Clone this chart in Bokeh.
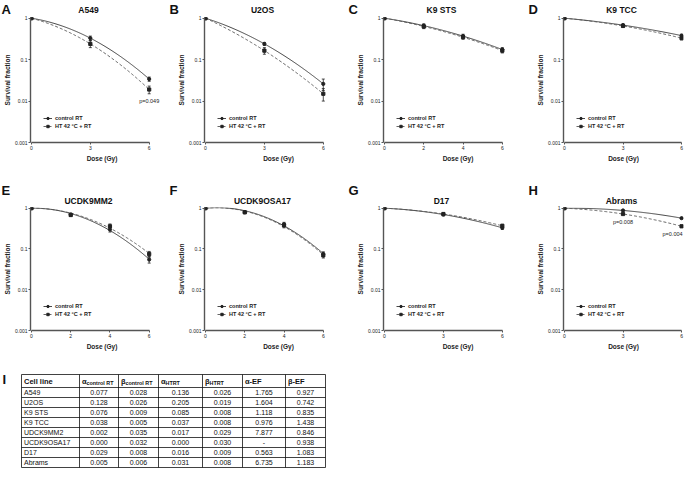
import numpy as np
from bokeh.plotting import figure
from bokeh.models import (Range1d, FixedTicker, CustomJSTickFormatter, Label, Legend,
                          LegendItem, Whisker, ColumnDataSource, TeeHead)
from bokeh.layouts import column, row
from bokeh.core.properties import value
from bokeh.embed import file_html
from bokeh.resources import INLINE

# ---------------- data ----------------
a549_dose = [0, 3, 6]
a549_ctrl = [1.0, 0.33, 0.034]
a549_ctrl_err = [0.02, 0.04, 0.004]
a549_ht = [1.0, 0.24, 0.019]
a549_ht_err = [0.02, 0.045, 0.004]
a549_p = [(2, "p=0.049")]

u2os_dose = [0, 3, 6]
u2os_ctrl = [1.0, 0.24, 0.026]
u2os_ctrl_err = [0.06, 0.02, 0.008]
u2os_ht = [1.0, 0.165, 0.015]
u2os_ht_err = [0.08, 0.03, 0.005]
u2os_p = []

k9sts_dose = [0, 2, 4, 6]
k9sts_ctrl = [1.0, 0.66, 0.37, 0.175]
k9sts_ctrl_err = [0.02, 0.07, 0.04, 0.02]
k9sts_ht = [1.0, 0.63, 0.35, 0.165]
k9sts_ht_err = [0.02, 0.07, 0.04, 0.02]
k9sts_p = []

k9tcc_dose = [0, 3, 6]
k9tcc_ctrl = [1.0, 0.68, 0.38]
k9tcc_ctrl_err = [0.03, 0.05, 0.03]
k9tcc_ht = [1.0, 0.65, 0.33]
k9tcc_ht_err = [0.03, 0.05, 0.03]
k9tcc_p = []

mm2_dose = [0, 2, 4, 6]
mm2_ctrl = [1.0, 0.70, 0.30, 0.055]
mm2_ctrl_err = [0.02, 0.05, 0.04, 0.01]
mm2_ht = [1.0, 0.68, 0.36, 0.075]
mm2_ht_err = [0.02, 0.05, 0.05, 0.012]
mm2_p = []

osa17_dose = [0, 2, 4, 6]
osa17_ctrl = [1.0, 0.80, 0.40, 0.075]
osa17_ctrl_err = [0.02, 0.05, 0.05, 0.01]
osa17_ht = [1.0, 0.79, 0.38, 0.07]
osa17_ht_err = [0.02, 0.05, 0.05, 0.01]
osa17_p = []

d17_dose = [0, 3, 6]
d17_ctrl = [1.0, 0.70, 0.33]
d17_ctrl_err = [0.02, 0.05, 0.03]
d17_ht = [1.0, 0.72, 0.37]
d17_ht_err = [0.02, 0.04, 0.03]
d17_p = []

abrams_dose = [0, 3, 6]
abrams_ctrl = [1.0, 0.88, 0.57]
abrams_ctrl_err = [0.01, 0.02, 0.02]
abrams_ht = [1.0, 0.72, 0.36]
abrams_ht_err = [0.01, 0.02, 0.02]
abrams_p = [(1, "p=0.008"), (2, "p=0.004")]

panel_letters = ["A", "B", "C", "D", "E", "F", "G", "H"]
panel_names = ["A549", "U2OS", "K9 STS", "K9 TCC", "UCDK9MM2", "UCDK9OSA17", "D17", "Abrams"]
y_ticks = [0.001, 0.01, 0.1, 1]
legend_labels = ["control RT", "HT 42 \u00b0C + RT"]

table_cells = ["A549", "U2OS", "K9 STS", "K9 TCC", "UDCK9MM2", "UCDK9OSA17", "D17", "Abrams"]
alpha_ctrl = [0.077, 0.128, 0.076, 0.038, 0.002, 0.000, 0.029, 0.005]
beta_ctrl = [0.028, 0.026, 0.009, 0.005, 0.035, 0.032, 0.008, 0.006]
alpha_htrt = [0.136, 0.205, 0.085, 0.037, 0.017, 0.000, 0.016, 0.031]
beta_htrt = [0.026, 0.019, 0.008, 0.008, 0.029, 0.030, 0.009, 0.008]
alpha_ef = [1.765, 1.604, 1.118, 0.976, 7.877, None, 0.563, 6.735]
beta_ef = [0.927, 0.742, 0.835, 1.438, 0.846, 0.938, 1.083, 1.183]

# ---------------- styling / layout constants ----------------
FONT = "Liberation Sans"
INK = "#222222"
TOTAL_W = 684
COL_WIDTHS = [174, 179, 180, 151]
LEFT_B = 26
AXIS_W = 122            # pixel length of the 0..6 Gy axis
X0 = -0.05
PX_PER_GY = AXIS_W / (6 - X0)
ROW_SPECS = [dict(strip=15, height=162, bottom=35, letter_y=1, title_y=9),
             dict(strip=28, height=147, bottom=21, letter_y=5, title_y=23)]


def lq_curve(d, s):
    d = np.asarray(d, float)
    s = np.asarray(s, float)
    m = d > 0
    A = np.column_stack([d[m], d[m] ** 2])
    coef, *_ = np.linalg.lstsq(A, -np.log(s[m]), rcond=None)
    xs = np.linspace(0, max(d), 121)
    return xs, np.exp(-(coef[0] * xs + coef[1] * xs ** 2))


def make_panel(idx, dose, ctrl, ctrl_err, ht, ht_err, pvals):
    col = idx % 4
    spec = ROW_SPECS[idx // 4]
    w = COL_WIDTHS[col]
    frame_w = w - LEFT_B - 1
    x_end = X0 + frame_w / PX_PER_GY
    p = figure(width=w, height=spec["height"], y_axis_type="log",
               x_range=Range1d(X0, x_end), y_range=Range1d(0.001, 1.04),
               output_backend="svg", toolbar_location=None,
               min_border_left=LEFT_B, min_border_right=1,
               min_border_top=2, min_border_bottom=spec["bottom"])
    p.outline_line_color = None
    p.grid.visible = False

    for ax in (p.xaxis[0], p.yaxis[0]):
        ax.axis_line_color = "#555555"
        ax.axis_line_width = 1.4
        ax.major_tick_line_color = "#555555"
        ax.major_tick_line_width = 1
        ax.major_tick_in = 0
        ax.major_tick_out = 2
        ax.minor_tick_line_color = None
        ax.major_label_text_font = FONT
        ax.major_label_text_font_size = "5px"
        ax.major_label_text_color = INK
        ax.major_label_standoff = 1
        ax.axis_label_text_font = FONT
        ax.axis_label_text_font_size = "6.5px"
        ax.axis_label_text_font_style = "bold"
        ax.axis_label_text_color = INK
        ax.axis_label_standoff = 2
    p.xaxis.ticker = FixedTicker(ticks=dose, minor_ticks=[])
    p.xaxis.bounds = (0, 6)
    p.xaxis.axis_label = "Dose (Gy)"
    p.yaxis.ticker = FixedTicker(ticks=y_ticks, minor_ticks=[])
    p.yaxis.bounds = (0.001, 1)
    p.yaxis.formatter = CustomJSTickFormatter(code="return String(tick);")
    p.yaxis.axis_label = "Survival fraction"
    p.yaxis.axis_label_standoff = 1

    cx, cy = lq_curve(dose, ctrl)
    hx, hy = lq_curve(dose, ht)
    r_cl = p.line(cx, cy, line_color="#333333", line_width=0.9)
    r_hl = p.line(hx, hy, line_color="#555555", line_width=0.9, line_dash="3 2")

    for vals, errs in ((ctrl, ctrl_err), (ht, ht_err)):
        src = ColumnDataSource(dict(x=dose,
                                    upper=[v + e for v, e in zip(vals, errs)],
                                    lower=[v - e for v, e in zip(vals, errs)]))
        p.add_layout(Whisker(base="x", upper="upper", lower="lower", source=src,
                             line_color=INK, line_width=0.8,
                             upper_head=TeeHead(size=3, line_color=INK, line_width=0.8),
                             lower_head=TeeHead(size=3, line_color=INK, line_width=0.8)))

    r_cs = p.scatter(dose, ctrl, marker="circle", size=3.2, color=INK)
    r_hs = p.scatter(dose, ht, marker="square", size=3.2, color=INK)

    legend = Legend(items=[LegendItem(label=legend_labels[0], renderers=[r_cl, r_cs]),
                           LegendItem(label=legend_labels[1], renderers=[r_hl, r_hs])],
                    location=(13, 13), orientation="vertical",
                    label_text_font=FONT, label_text_font_size="5.5px",
                    label_text_font_style="bold", label_text_color=INK,
                    glyph_width=9, glyph_height=6, label_height=6, label_standoff=3,
                    spacing=2, padding=0, margin=0,
                    border_line_alpha=0, background_fill_alpha=0)
    p.add_layout(legend)

    for k, txt in pvals:
        right_edge = dose[k] >= 6 and col == 3
        yo = -11 if col == 0 else -8
        p.add_layout(Label(x=dose[k], y=ht[k], x_offset=1 if right_edge else 0, y_offset=yo,
                           text=txt, text_font=FONT, text_font_size="5.5px",
                           text_color=INK, text_baseline="middle",
                           text_align="right" if right_edge else "center"))
    return p


def header_strip(r):
    spec = ROW_SPECS[r]
    h = spec["strip"]
    s = figure(width=TOTAL_W, height=h, x_range=Range1d(0, TOTAL_W), y_range=Range1d(h, 0),
               output_backend="svg", toolbar_location=None, min_border=0,
               x_axis_type=None, y_axis_type=None)
    s.outline_line_color = None
    s.grid.visible = False
    lefts = np.cumsum([0] + COL_WIDTHS[:-1])
    frame_lefts = [l + LEFT_B for l in lefts]
    s.text(x=[max(1, f - 31) for f in frame_lefts], y=[spec["letter_y"]] * 4,
           text=panel_letters[4 * r:4 * r + 4],
           text_font=value(FONT), text_font_size=value("13px"), text_font_style="bold",
           text_color="#111111", text_align="left", text_baseline="top")
    s.text(x=[f + AXIS_W / 2 + 1 for f in frame_lefts], y=[spec["title_y"]] * 4,
           text=panel_names[4 * r:4 * r + 4],
           text_font=value(FONT), text_font_size=value("8.5px"), text_font_style="bold",
           text_color="#111111", text_align="center", text_baseline="middle")
    return s


panel_data = [
    (a549_dose, a549_ctrl, a549_ctrl_err, a549_ht, a549_ht_err, a549_p),
    (u2os_dose, u2os_ctrl, u2os_ctrl_err, u2os_ht, u2os_ht_err, u2os_p),
    (k9sts_dose, k9sts_ctrl, k9sts_ctrl_err, k9sts_ht, k9sts_ht_err, k9sts_p),
    (k9tcc_dose, k9tcc_ctrl, k9tcc_ctrl_err, k9tcc_ht, k9tcc_ht_err, k9tcc_p),
    (mm2_dose, mm2_ctrl, mm2_ctrl_err, mm2_ht, mm2_ht_err, mm2_p),
    (osa17_dose, osa17_ctrl, osa17_ctrl_err, osa17_ht, osa17_ht_err, osa17_p),
    (d17_dose, d17_ctrl, d17_ctrl_err, d17_ht, d17_ht_err, d17_p),
    (abrams_dose, abrams_ctrl, abrams_ctrl_err, abrams_ht, abrams_ht_err, abrams_p),
]
panels = [make_panel(i, *d) for i, d in enumerate(panel_data)]

# ---------------- table (panel I) ----------------
TW, TH = TOTAL_W, 117
t = figure(width=TW, height=TH, x_range=Range1d(0, TW), y_range=Range1d(TH, 0),
           output_backend="svg", toolbar_location=None, min_border=0,
           x_axis_type=None, y_axis_type=None)
t.outline_line_color = None
t.grid.visible = False

tcol_w = [58, 39, 40, 44, 40, 43, 40]
t_left, t_top, head_h, row_h = 21, 22, 13, 10
edges = [t_left]
for cw in tcol_w:
    edges.append(edges[-1] + cw)
n = len(table_cells)
hlines = [t_top, t_top + head_h] + [t_top + head_h + row_h * (i + 1) for i in range(n)]
t.segment(x0=[edges[0]] * len(hlines), x1=[edges[-1]] * len(hlines), y0=hlines, y1=hlines,
          line_color="#111111", line_width=0.8)
t.segment(x0=edges, x1=edges, y0=[hlines[0]] * len(edges), y1=[hlines[-1]] * len(edges),
          line_color="#111111", line_width=0.8)

hy = t_top + head_h / 2
head_main = ["Cell line", "\u03b1", "\u03b2", "\u03b1", "\u03b2", "\u03b1-EF", "\u03b2-EF"]
head_sub = ["", "control RT", "control RT", "HTRT", "HTRT", "", ""]
t.text(x=[e + 2.5 for e in edges[:-1]], y=[hy] * 7, text=head_main,
       text_font=value(FONT), text_font_size=value("7.5px"), text_font_style="bold",
       text_color="#111111", text_align="left", text_baseline="middle")
sub_idx = [i for i, s in enumerate(head_sub) if s]
t.text(x=[edges[i] + 7 for i in sub_idx], y=[hy + 2] * len(sub_idx),
       text=[head_sub[i] for i in sub_idx],
       text_font=value(FONT), text_font_size=value("5.4px"), text_font_style="bold",
       text_color="#111111", text_align="left", text_baseline="middle")

row_y = [t_top + head_h + row_h * (i + 0.5) for i in range(n)]
t.text(x=[edges[0] + 2.5] * n, y=row_y, text=table_cells,
       text_font=value(FONT), text_font_size=value("7px"), text_color="#111111",
       text_align="left", text_baseline="middle")
num_cols = [alpha_ctrl, beta_ctrl, alpha_htrt, beta_htrt, alpha_ef, beta_ef]
for j, colvals in enumerate(num_cols):
    cxm = (edges[j + 1] + edges[j + 2]) / 2
    labels = ["-" if v is None else f"{v:.3f}" for v in colvals]
    t.text(x=[cxm] * n, y=row_y, text=labels,
           text_font=value(FONT), text_font_size=value("7px"), text_color="#111111",
           text_align="center", text_baseline="middle")
t.text(x=[2], y=[19], text=["I"], text_font=value(FONT), text_font_size=value("13px"),
       text_font_style="bold", text_color="#111111", text_align="left", text_baseline="top")

layout = column(header_strip(0), row(*panels[:4]), header_strip(1), row(*panels[4:]), t)
open("out.html", "w").write(file_html(layout, INLINE))
